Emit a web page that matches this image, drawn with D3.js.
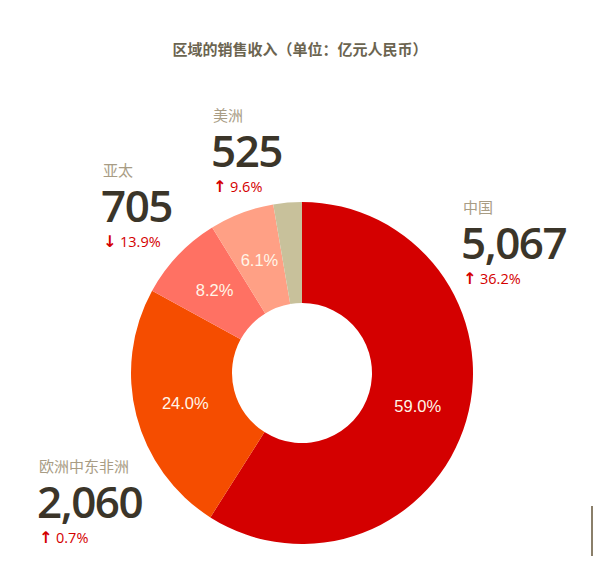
<!DOCTYPE html>
<html>
<head>
<meta charset="utf-8">
<script src="https://cdn.jsdelivr.net/npm/d3@7"></script>
<style>
  body { margin: 0; background: #fff; }
  svg { display: block; }
</style>
</head>
<body>
<div class="chart"></div>
<script>
var svgWidth = 593;
var svgHeight = 566;

// data
var regions = ["中国", "欧洲中东非洲", "亚太", "美洲", "其他"];
var revenue = [5067, 2060, 705, 525, 231];
var changes = [36.2, 0.7, -13.9, 9.6, null];
var colors = ["#d40000", "#f54d00", "#ff7163", "#ffa085", "#c8c19b"];

// where each callout sits (name baseline, left x)
var callouts = [
  { i: 0, x: 463, y: 213 },
  { i: 1, x: 39, y: 472 },
  { i: 2, x: 103, y: 176 },
  { i: 3, x: 213, y: 121 }
];

var cx = 302, cy = 373;
var outerR = 171, innerR = 70;

var svg = d3.select(".chart")
  .append("svg")
  .attr("width", svgWidth)
  .attr("height", svgHeight);

// title
svg.append("text")
  .attr("x", 300)
  .attr("y", 55)
  .attr("text-anchor", "middle")
  .attr("font-family", "'Noto Sans CJK SC', sans-serif")
  .attr("font-weight", "bold")
  .attr("font-size", 15)
  .attr("fill", "#6b6450")
  .text("区域的销售收入（单位：亿元人民币）");

var data = regions.map(function(r, i) {
  return { name: r, value: revenue[i], change: changes[i], color: colors[i] };
});
var total = d3.sum(revenue);

var pie = d3.pie()
  .sort(null)
  .value(d => d.value);

var arc = d3.arc()
  .innerRadius(innerR)
  .outerRadius(outerR);

var donut = svg.append("g")
  .attr("transform", `translate(${cx}, ${cy})`);

var slices = donut.selectAll("g")
  .data(pie(data))
  .enter()
  .append("g");

slices.append("path")
  .attr("d", arc)
  .attr("fill", d => d.data.color);

// percent labels (skip the tiny one)
slices.filter(d => d.data.value / total > 0.04)
  .append("text")
  .attr("transform", d => `translate(${arc.centroid(d)})`)
  .attr("dy", "0.35em")
  .attr("text-anchor", "middle")
  .attr("font-family", "'Liberation Sans', Arial, sans-serif")
  .attr("font-size", 16.5)
  .attr("fill", "#fff6e8")
  .text(d => (d.data.value / total * 100).toFixed(1) + "%");

// callouts
var fmt = d3.format(",");
var labels = svg.selectAll("g.callout")
  .data(callouts)
  .enter()
  .append("g")
  .attr("class", "callout")
  .attr("transform", d => `translate(${d.x}, ${d.y})`);

labels.append("text")
  .attr("font-family", "'Noto Sans CJK SC', sans-serif")
  .attr("font-size", 15)
  .attr("fill", "#a89c84")
  .text(d => data[d.i].name);

labels.append("text")
  .attr("y", 46)
  .attr("x", -2)
  .attr("font-family", "'Open Sans', 'Noto Sans', sans-serif")
  .attr("font-size", 44)
  .attr("font-weight", 600)
  .attr("fill", "#3b3529")
  .attr("letter-spacing", -1.5)
  .text(d => fmt(data[d.i].value));

// change arrow + value
labels.append("text")
  .attr("y", 71)
  .attr("font-family", "'DejaVu Sans', sans-serif")
  .attr("font-weight", "bold")
  .attr("font-size", 16)
  .attr("fill", "#d40000")
  .text(d => data[d.i].change < 0 ? "↓" : "↑");

labels.append("text")
  .attr("y", 71)
  .attr("x", 17)
  .attr("font-family", "'Open Sans', 'Noto Sans', sans-serif")
  .attr("font-size", 14.5)
  .attr("fill", "#d40000")
  .text(d => Math.abs(data[d.i].change).toFixed(1) + "%");

// thin bar at right edge
svg.append("line")
  .attr("x1", 592).attr("x2", 592)
  .attr("y1", 506).attr("y2", 556)
  .attr("stroke", "#8a7f6a")
  .attr("stroke-width", 2);
</script>
</body>
</html>
